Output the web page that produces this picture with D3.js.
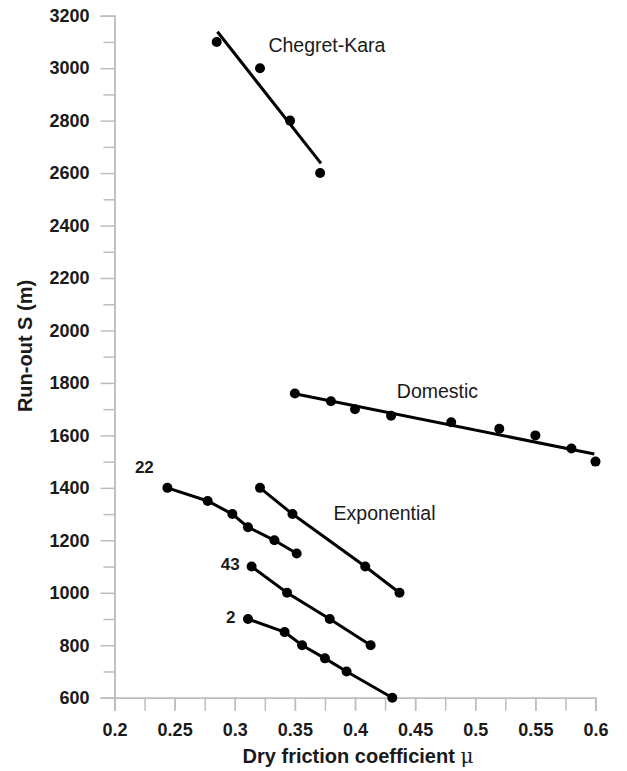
<!DOCTYPE html>
<html>
<head>
<meta charset="utf-8">
<script src="https://cdn.jsdelivr.net/npm/d3@7"></script>
<style>
  body { margin: 0; background: #fff; }
  svg text { font-family: "Liberation Sans", Arial, sans-serif; fill: #1a1a1a; }
</style>
</head>
<body>
<svg id="chart"></svg>
<script>
// values
var chegretMu = [0.285, 0.321, 0.346, 0.371];
var chegretS = [3100, 3000, 2800, 2600];
var chegretFitMu = [0.2856, 0.3717];
var chegretFitS = [3139, 2637];

var domesticMu = [0.35, 0.38, 0.40, 0.43, 0.48, 0.52, 0.55, 0.58, 0.60];
var domesticS = [1760, 1730, 1700, 1675, 1650, 1625, 1600, 1550, 1500];
var domesticFitMu = [0.352, 0.599];
var domesticFitS = [1757, 1529];

var exp22Mu = [0.244, 0.2775, 0.298, 0.311, 0.333, 0.3515];
var exp22S = [1400, 1350, 1300, 1250, 1200, 1150];
var expMu = [0.321, 0.348, 0.4085, 0.437];
var expS = [1400, 1300, 1100, 1000];
var exp43Mu = [0.314, 0.3435, 0.379, 0.413];
var exp43S = [1100, 1000, 900, 800];
var exp2Mu = [0.311, 0.3415, 0.356, 0.375, 0.393, 0.431];
var exp2S = [900, 850, 800, 750, 700, 600];

var xTicks = [0.2, 0.25, 0.3, 0.35, 0.4, 0.45, 0.5, 0.55, 0.6];
var yTicks = [600, 800, 1000, 1200, 1400, 1600, 1800, 2000, 2200, 2400, 2600, 2800, 3000, 3200];

// annotation labels: text, anchor mu, anchor S
var labelText = ["Chegret-Kara", "Domestic", "Exponential", "22", "43", "2"];
var labelMu = [0.328, 0.4348, 0.3822, 0.2327, 0.3041, 0.3005];
var labelS = [3062, 1743, 1277, 1455, 1087, 885];

function zip(xs, ys) {
  return xs.map((x, i) => ({mu: x, s: ys[i]}));
}

function drawChart(width, height) {
  var padding = {top: 15.7, right: 31.5, bottom: 73.3, left: 114.5};
  var svg = d3.select("#chart")
              .attr("width", width)
              .attr("height", height);

  var xScale = d3.scaleLinear()
                 .domain([0.2, 0.6])
                 .range([padding.left, width - padding.right]);
  var yScale = d3.scaleLinear()
                 .domain([600, 3200])
                 .range([height - padding.bottom, padding.top]);

  // minor ticks every 100 on y, every 0.025 on x
  var yMinor = d3.range(700, 3200, 200);
  var xAll = d3.range(0, 17).map(i => 0.2 + i * 0.025);

  var yMinorAxis = svg.append("g")
      .attr("transform", "translate(" + padding.left + ",0)")
      .call(d3.axisLeft(yScale).tickValues(yMinor).tickSize(11).tickFormat(""));
  var yAxis = svg.append("g")
      .attr("transform", "translate(" + padding.left + ",0)")
      .call(d3.axisLeft(yScale).tickValues(yTicks).tickSize(14).tickPadding(11)
              .tickFormat(d3.format("d")));
  var xAxisTicks = svg.append("g")
      .attr("transform", "translate(0," + (height - padding.bottom) + ")")
      .call(d3.axisBottom(xScale).tickValues(xAll).tickSize(13).tickFormat(""));
  var xAxis = svg.append("g")
      .attr("transform", "translate(0," + (height - padding.bottom) + ")")
      .call(d3.axisBottom(xScale).tickValues(xTicks).tickSize(13).tickPadding(13)
              .tickFormat(d => d3.format("")(+d.toFixed(2))));

  [yMinorAxis, yAxis, xAxisTicks, xAxis].forEach(g => {
    g.selectAll("path, line").attr("stroke", "#bdbdbd").attr("stroke-width", 1.5);
    g.selectAll("text")
      .style("font-size", "18px")
      .style("font-weight", "bold")
      .attr("fill", "#1a1a1a");
  });

  // axis titles
  svg.append("text")
      .attr("transform", "translate(32,346) rotate(-90)")
      .style("text-anchor", "middle")
      .style("font-size", "20px")
      .style("font-weight", "bold")
      .text("Run-out S (m)");

  var xTitle = svg.append("text")
      .attr("x", 358)
      .attr("y", 763)
      .style("text-anchor", "middle")
      .style("font-size", "20px")
      .style("font-weight", "bold");
  xTitle.append("tspan").text("Dry friction coefficient ");
  xTitle.append("tspan")
      .style("font-family", "'DejaVu Serif', serif")
      .style("font-weight", "normal")
      .text("\u03bc");

  var line = d3.line()
               .x(d => xScale(d.mu))
               .y(d => yScale(d.s));

  var lines = [
    zip(chegretFitMu, chegretFitS),
    zip(domesticFitMu, domesticFitS),
    zip(exp22Mu, exp22S),
    zip(expMu, expS),
    zip(exp43Mu, exp43S),
    zip(exp2Mu, exp2S)
  ];
  svg.selectAll(".fit")
     .data(lines)
     .enter()
     .append("path")
       .classed("fit", true)
       .attr("d", line)
       .attr("fill", "none")
       .attr("stroke", "#000")
       .attr("stroke-width", 3);

  var points = [].concat(
    zip(chegretMu, chegretS),
    zip(domesticMu, domesticS),
    zip(exp22Mu, exp22S),
    zip(expMu, expS),
    zip(exp43Mu, exp43S),
    zip(exp2Mu, exp2S)
  );
  svg.selectAll(".dot")
     .data(points)
     .enter()
     .append("circle")
       .classed("dot", true)
       .attr("cx", d => xScale(d.mu))
       .attr("cy", d => yScale(d.s))
       .attr("r", 5)
       .attr("fill", "#000");

  // annotations: names are plain, numbers are bold and right-aligned
  svg.selectAll(".label")
     .data(labelText)
     .enter()
     .append("text")
       .classed("label", true)
       .attr("x", (d, i) => xScale(labelMu[i]))
       .attr("y", (d, i) => yScale(labelS[i]))
       .style("text-anchor", (d, i) => i < 3 ? "start" : "end")
       .style("font-size", (d, i) => i < 3 ? "19.5px" : "17px")
       .style("font-weight", (d, i) => i < 3 ? "normal" : "bold")
       .text(d => d);
}

drawChart(627, 771);
</script>
</body>
</html>
